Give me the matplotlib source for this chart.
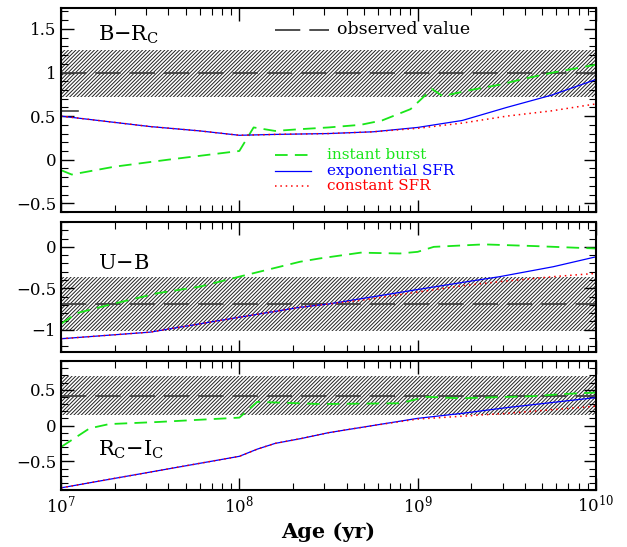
import matplotlib
matplotlib.use("Agg")
import matplotlib.pyplot as plt
import numpy as np
from matplotlib.ticker import MultipleLocator, FuncFormatter, LogLocator, LogFormatterMathtext

plt.rcParams["font.family"] = ["DejaVu Serif"]
plt.rcParams["mathtext.fontset"] = "dejavuserif"
plt.rcParams["hatch.linewidth"] = 0.7

# ---- data (log10 age in yr) ----
# B - Rc
br_logt_model = [7.0, 7.25, 7.5, 7.78, 8.0, 8.2, 8.5, 8.75, 9.0, 9.25, 9.5, 9.75, 10.0]
br_exp = [0.50, 0.44, 0.38, 0.33, 0.28, 0.29, 0.30, 0.32, 0.37, 0.45, 0.60, 0.74, 0.92]
br_const = [0.50, 0.44, 0.38, 0.33, 0.28, 0.29, 0.30, 0.32, 0.36, 0.42, 0.50, 0.56, 0.64]
br_logt_burst = [7.0, 7.06, 7.3, 7.6, 8.0, 8.08, 8.2, 8.34, 8.5, 8.68, 8.8, 8.96, 9.08, 9.14, 9.3, 9.46, 9.6, 9.76, 10.0]
br_burst = [-0.12, -0.17, -0.08, 0.0, 0.10, 0.37, 0.33, 0.35, 0.37, 0.40, 0.45, 0.58, 0.81, 0.73, 0.80, 0.86, 0.93, 1.00, 1.09]
br_obs, br_err = 0.99, 0.27

# U - B
ub_logt_model = [7.0, 7.5, 8.0, 8.34, 8.5, 8.7, 9.0, 9.25, 9.46, 9.76, 10.0]
ub_exp = [-1.11, -1.03, -0.85, -0.73, -0.69, -0.62, -0.515, -0.43, -0.36, -0.24, -0.12]
ub_const = [-1.11, -1.03, -0.85, -0.73, -0.69, -0.64, -0.545, -0.47, -0.42, -0.36, -0.32]
ub_logt_burst = [7.0, 7.09, 7.27, 7.54, 7.78, 8.0, 8.34, 8.45, 8.68, 8.9, 9.0, 9.09, 9.37, 9.65, 10.0]
ub_burst = [-0.93, -0.80, -0.70, -0.56, -0.48, -0.36, -0.18, -0.14, -0.07, -0.08, -0.06, 0.0, 0.03, 0.01, -0.02]
ub_obs, ub_err = -0.69, 0.33

# Rc - Ic
ri_logt_model = [7.0, 7.5, 8.0, 8.1, 8.2, 8.35, 8.5, 8.75, 9.0, 9.25, 9.5, 9.75, 10.0]
ri_exp = [-0.87, -0.65, -0.43, -0.33, -0.25, -0.18, -0.10, 0.0, 0.10, 0.17, 0.25, 0.32, 0.39]
ri_const = [-0.87, -0.65, -0.43, -0.33, -0.25, -0.18, -0.10, 0.0, 0.09, 0.13, 0.17, 0.22, 0.27]
ri_logt_burst = [7.0, 7.16, 7.27, 7.55, 8.0, 8.1, 8.45, 8.9, 9.05, 9.24, 9.65, 9.82, 10.0]
ri_burst = [-0.30, -0.04, 0.02, 0.05, 0.11, 0.33, 0.30, 0.31, 0.40, 0.38, 0.41, 0.44, 0.46]
ri_obs, ri_err = 0.415, 0.27

green = "#19e619"
obs_color = "#404040"

fig = plt.figure(figsize=(6.27, 5.47), dpi=100)
left, right = 0.0973, 0.9506
ax1 = fig.add_axes([left, 0.6124, right - left, 0.9854 - 0.6124])
ax2 = fig.add_axes([left, 0.3565, right - left, 0.5941 - 0.3565])
ax3 = fig.add_axes([left, 0.1042, right - left, 0.340 - 0.1042])


def fmt(v, pos):
    s = ("%g" % round(v, 2))
    return s.replace("-", "\u2212")


panels = [
    (ax1, br_logt_model, br_exp, br_const, br_logt_burst, br_burst, br_obs, br_err, (-0.6, 1.74)),
    (ax2, ub_logt_model, ub_exp, ub_const, ub_logt_burst, ub_burst, ub_obs, ub_err, (-1.27, 0.30)),
    (ax3, ri_logt_model, ri_exp, ri_const, ri_logt_burst, ri_burst, ri_obs, ri_err, (-0.9, 0.9)),
]

for ax, lt, ye, yc, ltb, yb, obs, err, ylim in panels:
    ax.fill_between([1e7, 1e10], obs - err, obs + err, facecolor="none",
                    edgecolor="#222222", hatch="/" * 9, linewidth=0)
    ax.axhline(obs, color=obs_color, lw=1.3, dashes=(14, 5))
    ax.plot(10 ** np.array(ltb), yb, color=green, lw=1.3, dashes=(7, 4))
    ax.plot(10 ** np.array(lt), ye, color="blue", lw=0.9)
    ax.plot(10 ** np.array(lt), yc, color="red", lw=1.1, dashes=(1, 2.5))
    ax.set_xscale("log")
    ax.set_xlim(1e7, 1e10)
    ax.set_ylim(*ylim)
    ax.yaxis.set_major_locator(MultipleLocator(0.5))
    ax.yaxis.set_minor_locator(MultipleLocator(0.1))
    ax.yaxis.set_major_formatter(FuncFormatter(fmt))
    ax.xaxis.set_major_locator(LogLocator(base=10))
    ax.xaxis.set_minor_locator(LogLocator(base=10, subs=np.arange(2, 10)))
    ax.tick_params(which="both", direction="in", top=True, right=True, labelsize=12)
    ax.tick_params(which="major", length=9, width=1)
    ax.tick_params(which="minor", length=5, width=0.8)
    for sp in ax.spines.values():
        sp.set_linewidth(1.5)
    if ax is not ax3:
        ax.tick_params(labelbottom=False)

ax3.xaxis.set_major_formatter(LogFormatterMathtext())

# stray marker in top panel
ax1.plot([1e7, 1.25e7], [0.56, 0.56], color=obs_color, lw=1.2)

# panel labels
ax1.text(0.07, 0.87, r"B$-$R$_{\rm C}$", transform=ax1.transAxes, fontsize=15, va="center")
ax2.text(0.07, 0.68, r"U$-$B", transform=ax2.transAxes, fontsize=15, va="center")
ax3.text(0.07, 0.31, r"R$_{\rm C}$$-$I$_{\rm C}$", transform=ax3.transAxes, fontsize=15, va="center")

# legends drawn by hand
ax1.plot([10 ** 8.2, 10 ** 8.5], [1.49, 1.49], color=obs_color, lw=1.3, dashes=(14, 5))
ax1.text(10 ** 8.55, 1.49, "observed value", fontsize=12.5, va="center", color="black")
leg = [(0.05, green, (7, 4), "instant burst", 1.3),
       (-0.125, "blue", None, "exponential SFR", 0.9),
       (-0.30, "red", (1, 2.5), "constant SFR", 1.1)]
for y, c, d, lab, lw in leg:
    kw = {"dashes": d} if d else {}
    ax1.plot([10 ** 8.2, 10 ** 8.4], [y, y], color=c, lw=lw, **kw)
    ax1.text(10 ** 8.49, y, lab, fontsize=11, va="center", color=c)

ax3.set_xlabel("Age (yr)", fontsize=15, fontweight="bold")

fig.savefig("out.png", dpi=100)
